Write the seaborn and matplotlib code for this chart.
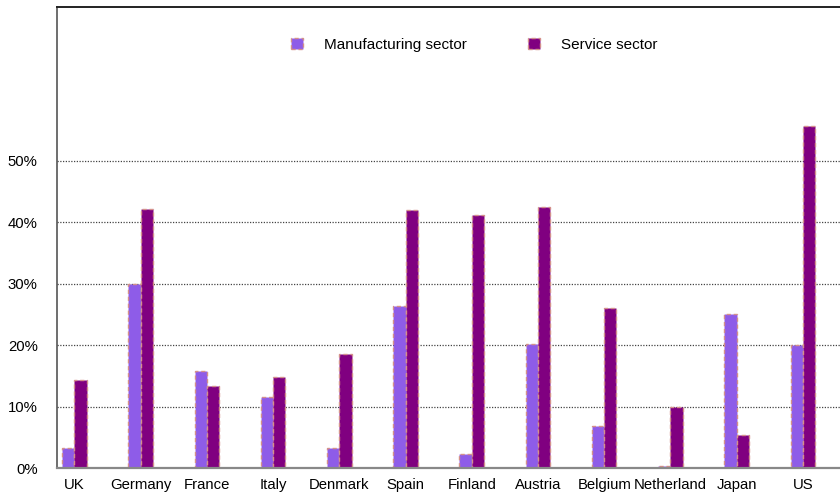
import numpy as np
import pandas as pd
import matplotlib
matplotlib.use("Agg")
import matplotlib.pyplot as plt
import seaborn as sns

countries = ['UK', 'Germany', 'France', 'Italy', 'Denmark', 'Spain',
             'Finland', 'Austria', 'Belgium', 'Netherland', 'Japan', 'US']
manufacturing = [3.3, 30.0, 15.8, 11.6, 3.3, 26.3, 2.2, 20.2, 6.8, 0.4, 25.0, 20.0]
service = [14.3, 42.2, 13.4, 14.8, 18.5, 41.9, 41.2, 42.5, 26.0, 10.0, 5.3, 55.7]
sectors = ['Manufacturing sector', 'Service sector']
yticks = [0, 10, 20, 30, 40, 50]

df = pd.DataFrame({
    'country': countries * 2,
    'sector': [sectors[0]] * len(countries) + [sectors[1]] * len(countries),
    'value': manufacturing + service,
})

sns.set_style('white')
plt.rcParams['font.family'] = ['Liberation Sans', 'DejaVu Sans']
plt.rcParams['text.color'] = 'black'
plt.rcParams['xtick.color'] = 'black'
plt.rcParams['ytick.color'] = 'black'

fig = plt.figure(figsize=(8.4, 4.95), dpi=100)
ax = fig.add_axes([0.068, 0.0545, 0.932, 0.9315])

ax = sns.barplot(data=df, x='country', y='value', hue='sector', order=countries,
                 hue_order=sectors, palette=['#8E5CE8', '#800080'], width=0.37,
                 saturation=1, edgecolor='#D4908A', linewidth=1.0,
                 linestyle=(0, (3, 2)), ax=ax)

ax.set_xlim(-0.26, 11.56)
ax.set_ylim(0, 75)
ax.set_yticks(yticks)
ax.set_yticklabels(['%d%%' % v for v in yticks])
for v in yticks[1:]:
    ax.axhline(v, color='#444444', linestyle=(0, (1, 1.2)), linewidth=0.9, zorder=0)

ax.set_xlabel('')
ax.set_ylabel('')
ax.tick_params(axis='x', length=0, pad=7, labelsize=10.7, labelcolor='black')
ax.tick_params(axis='y', length=0, pad=14, labelsize=10.7, labelcolor='black')

ax.spines['right'].set_visible(False)
ax.spines['top'].set_color('#222222')
ax.spines['top'].set_linewidth(1.4)
ax.spines['left'].set_color('#555555')
ax.spines['left'].set_linewidth(1.2)
ax.spines['bottom'].set_color('#888888')
ax.spines['bottom'].set_linewidth(1.6)

leg = ax.legend(loc='center', bbox_to_anchor=(0.533, 0.918), ncol=2, frameon=False,
                fontsize=11, handlelength=0.75, handleheight=0.75, handletextpad=1.4,
                columnspacing=4.0)
for t in leg.get_texts():
    t.set_color('black')

plt.savefig('out.png', dpi=100)
